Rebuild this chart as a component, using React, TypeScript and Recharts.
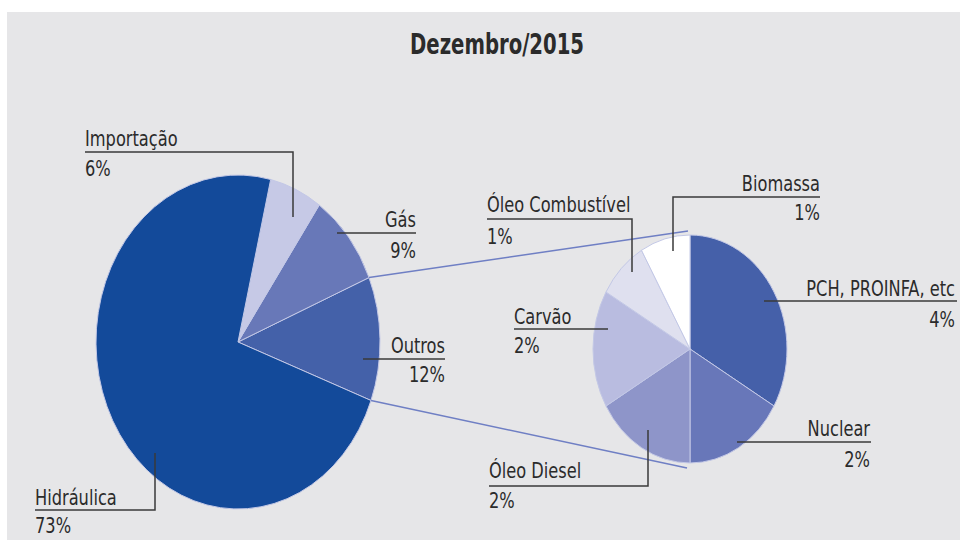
import { Cell, Pie, PieChart } from "recharts";

const mainNames = ["Outros", "Gás", "Importação", "Hidráulica"];
const mainValues = [12, 9, 6, 73];

const otherNames = [
  "PCH, PROINFA, etc",
  "Nuclear",
  "Óleo Diesel",
  "Carvão",
  "Óleo Combustível",
  "Biomassa",
];
const otherValues = [4, 2, 2, 2, 1, 1];

const mainColors = ["#4461a9", "#6878b8", "#c6c9e6", "#134a9a"];
const otherColors = ["#4560a9", "#6877b9", "#8e95c9", "#b9bce0", "#dfe0ef", "#ffffff"];

const mainData = mainNames.map((name, i) => ({ name, value: mainValues[i] }));
const otherData = otherNames.map((name, i) => ({ name, value: otherValues[i] }));

const MAIN = { cx: 238, cy: 342, rx: 142, ry: 167 };
const SUB = { cx: 690, cy: 349, rx: 97, ry: 114 };

const FONT = "'DejaVu Sans Condensed', 'DejaVu Sans', sans-serif";
const TEXT = "#2b2b2b";
const LEADER = "#3a3a3a";
const SQUEEZE = 0.82;

type Layout = {
  x: number;
  anchor: "start" | "end";
  nameY: number;
  valueY: number;
  line: [number, number][];
};

// where each label sits and how its leader line runs
const labelLayout: Record<string, Layout> = {
  Importação: { x: 85, anchor: "start", nameY: 146, valueY: 176, line: [[85, 152], [293, 152], [293, 217]] },
  Gás: { x: 416, anchor: "end", nameY: 227, valueY: 258, line: [[337, 233], [416, 233]] },
  Outros: { x: 445, anchor: "end", nameY: 353, valueY: 382, line: [[363, 359], [445, 359]] },
  Hidráulica: { x: 35, anchor: "start", nameY: 505, valueY: 533, line: [[35, 510], [155, 510], [155, 453]] },
  "Óleo Combustível": { x: 487, anchor: "start", nameY: 212, valueY: 244, line: [[487, 219], [632, 219], [632, 272]] },
  Biomassa: { x: 820, anchor: "end", nameY: 191, valueY: 220, line: [[673, 251], [673, 197], [820, 197]] },
  "PCH, PROINFA, etc": { x: 955, anchor: "end", nameY: 296, valueY: 327, line: [[764, 301], [957, 301]] },
  Carvão: { x: 514, anchor: "start", nameY: 324, valueY: 353, line: [[514, 329], [608, 329]] },
  Nuclear: { x: 870, anchor: "end", nameY: 436, valueY: 467, line: [[737, 442], [871, 442]] },
  "Óleo Diesel": { x: 489, anchor: "start", nameY: 478, valueY: 508, line: [[489, 486], [648, 486], [648, 430]] },
};

const RAD = Math.PI / 180;

function ellipsePoint(cx: number, cy: number, rx: number, ry: number, angle: number) {
  return { x: cx + rx * Math.cos(angle * RAD), y: cy - ry * Math.sin(angle * RAD) };
}

// pie slice squeezed into an ellipse (the original picture is stretched vertically)
function makeShape(ratio: number) {
  return (props: any) => {
    const { cx, cy, outerRadius, startAngle, endAngle, fill } = props;
    const rx = outerRadius;
    const ry = outerRadius * ratio;
    const p0 = ellipsePoint(cx, cy, rx, ry, startAngle);
    const p1 = ellipsePoint(cx, cy, rx, ry, endAngle);
    const sweep = endAngle > startAngle ? 0 : 1;
    const large = Math.abs(endAngle - startAngle) > 180 ? 1 : 0;
    const d = `M${cx},${cy} L${p0.x},${p0.y} A${rx},${ry} 0 ${large} ${sweep} ${p1.x},${p1.y} Z`;
    return <path d={d} fill={fill} stroke="#c3c8e6" strokeWidth={1} strokeLinejoin="round" />;
  };
}

function NarrowText({ x, y, anchor, children }: { x: number; y: number; anchor: string; children: any }) {
  return (
    <text
      x={0}
      y={0}
      transform={`translate(${x},${y}) scale(${SQUEEZE},1)`}
      textAnchor={anchor}
      fill={TEXT}
      fontSize={22}
      fontFamily={FONT}
    >
      {children}
    </text>
  );
}

function renderLabel(props: any) {
  const name = props.name ?? props.payload?.name;
  const layout = labelLayout[name];
  if (!layout) return null;
  const pts = layout.line.map((p) => p.join(",")).join(" ");

  let connectors = null;
  if (name === "Outros") {
    const ratio = MAIN.ry / MAIN.rx;
    const a = ellipsePoint(props.cx, props.cy, props.outerRadius, props.outerRadius * ratio, props.startAngle);
    const b = ellipsePoint(props.cx, props.cy, props.outerRadius, props.outerRadius * ratio, props.endAngle);
    connectors = (
      <g stroke="#6f7fc4" strokeWidth={1.5}>
        <line x1={b.x} y1={b.y} x2={SUB.cx - 2} y2={SUB.cy - SUB.ry - 4} />
        <line x1={a.x} y1={a.y} x2={SUB.cx - 3} y2={SUB.cy + SUB.ry + 5} />
      </g>
    );
  }

  return (
    <g key={`label-${name}`}>
      {connectors}
      <polyline points={pts} fill="none" stroke={LEADER} strokeWidth={1.5} />
      <NarrowText x={layout.x} y={layout.nameY} anchor={layout.anchor}>
        {name}
      </NarrowText>
      <NarrowText x={layout.x} y={layout.valueY} anchor={layout.anchor}>
        {`${props.value}%`}
      </NarrowText>
    </g>
  );
}

export default function App() {
  return (
    <div style={{ position: "absolute", left: 0, top: 0, width: 960, height: 540, background: "#ffffff" }}>
      <div style={{ position: "absolute", left: 7, top: 12, width: 953, height: 528, background: "#e6e6e8" }} />
      <div
        style={{
          position: "absolute",
          left: 0,
          top: 28,
          width: 960,
          textAlign: "center",
          fontFamily: FONT,
          fontWeight: "bold",
          fontSize: 28,
          color: "#2b2b2b",
          paddingLeft: 34,
          boxSizing: "border-box",
          transform: "scaleX(0.78)",
          transformOrigin: "497px 0",
        }}
      >
        Dezembro/2015
      </div>
      <div style={{ position: "absolute", left: 0, top: 0 }}>
        <PieChart width={960} height={540} margin={{ top: 0, right: 0, bottom: 0, left: 0 }}>
          <Pie
            data={mainData}
            dataKey="value"
            nameKey="name"
            cx={MAIN.cx}
            cy={MAIN.cy}
            outerRadius={MAIN.rx}
            startAngle={-20.5}
            endAngle={339.5}
            shape={makeShape(MAIN.ry / MAIN.rx)}
            label={renderLabel}
            labelLine={false}
            isAnimationActive={false}
          >
            {mainData.map((d, i) => (
              <Cell key={d.name} fill={mainColors[i]} />
            ))}
          </Pie>
          <Pie
            data={otherData}
            dataKey="value"
            nameKey="name"
            cx={SUB.cx}
            cy={SUB.cy}
            outerRadius={SUB.rx}
            startAngle={90}
            endAngle={-270}
            shape={makeShape(SUB.ry / SUB.rx)}
            label={renderLabel}
            labelLine={false}
            isAnimationActive={false}
          >
            {otherData.map((d, i) => (
              <Cell key={d.name} fill={otherColors[i]} />
            ))}
          </Pie>
        </PieChart>
      </div>
    </div>
  );
}
